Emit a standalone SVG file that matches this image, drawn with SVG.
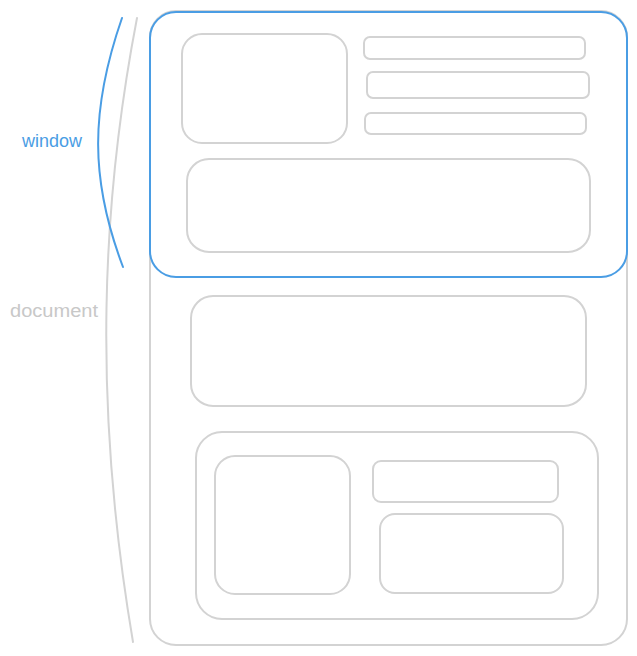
<svg xmlns="http://www.w3.org/2000/svg" width="637" height="656" viewBox="0 0 637 656">
<style>
.g{fill:none;stroke:#d3d3d3;stroke-width:2;stroke-linecap:round}
.b{fill:none;stroke:#4a9de4;stroke-width:2;stroke-linecap:round}
.t{font-family:"Liberation Sans",sans-serif;font-size:18px}
</style>
<rect width="637" height="656" fill="#fff"/>
<g id="document-frame"><rect class="g" x="150" y="11" width="477" height="634" rx="26"/></g>
<g id="window-frame"><rect class="b" x="150" y="12" width="477" height="265" rx="26"/></g>
<g id="box-top-left"><rect class="g" x="182" y="34" width="165" height="109" rx="20"/></g>
<g id="bar-1"><rect class="g" x="364" y="37" width="221" height="22" rx="6"/></g>
<g id="bar-2"><rect class="g" x="367" y="72" width="222" height="26" rx="6"/></g>
<g id="bar-3"><rect class="g" x="365" y="113" width="221" height="21" rx="6"/></g>
<g id="box-wide-1"><rect class="g" x="187" y="159" width="403" height="93" rx="22"/></g>
<g id="box-wide-2"><rect class="g" x="191" y="296" width="395" height="110" rx="22"/></g>
<g id="box-bottom"><rect class="g" x="196" y="432" width="402" height="187" rx="26"/></g>
<g id="box-bottom-left"><rect class="g" x="215" y="456" width="135" height="138" rx="20"/></g>
<g id="box-bottom-bar"><rect class="g" x="373" y="461" width="185" height="41" rx="8"/></g>
<g id="box-bottom-right"><rect class="g" x="380" y="514" width="183" height="79" rx="15"/></g>
<g id="connectors">
<path class="g" d="M137,18 C102,200 92,400 133,642"/>
<path class="b" d="M122,18 C90,110 90,180 123,267"/>
</g>
<g id="labels">
<text class="t" x="22" y="147" fill="#4a9de4" textLength="60" lengthAdjust="spacingAndGlyphs">window</text>
<text class="t" x="10" y="317" fill="#c8c8c8" textLength="88" lengthAdjust="spacingAndGlyphs">document</text>
</g>
</svg>
